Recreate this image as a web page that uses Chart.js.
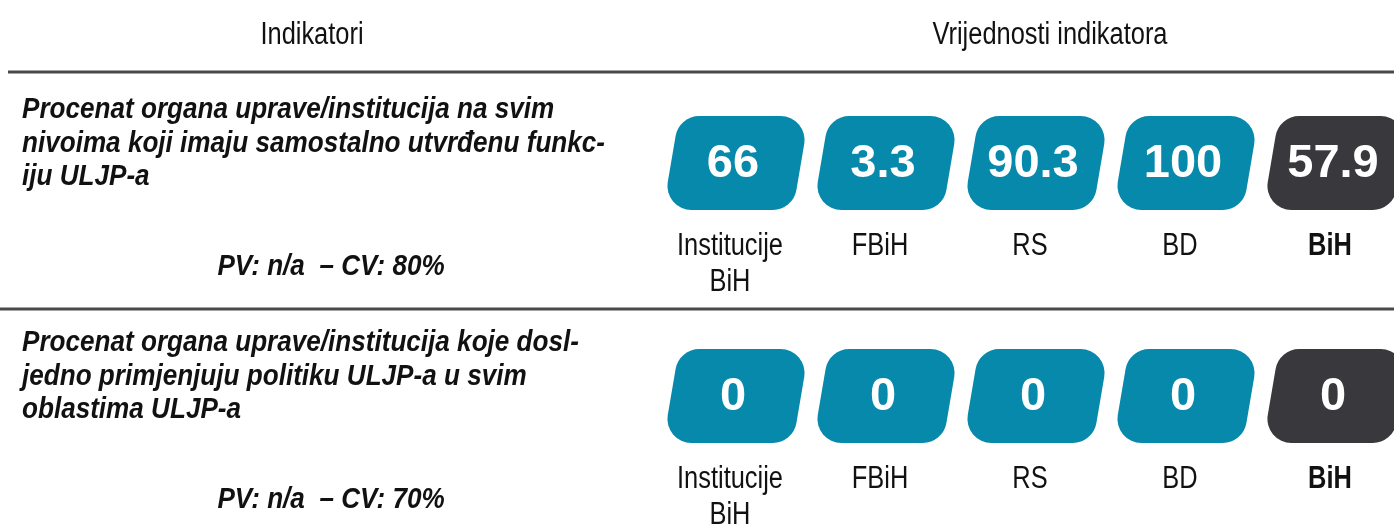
<!DOCTYPE html>
<html>
<head>
<meta charset="utf-8">
<script src="https://cdn.jsdelivr.net/npm/chart.js@4/dist/chart.umd.min.js"></script>
<style>
  body { margin: 0; background: #fff; }
  #wrap { width: 1394px; height: 532px; position: relative; }
</style>
</head>
<body>
<div id="wrap"><canvas id="badges"></canvas></div>
<script>
// --- data ---
const regions = [["Institucije", "BiH"], ["FBiH"], ["RS"], ["BD"], ["BiH"]];
const row1Values = [66, 3.3, 90.3, 100, 57.9];
const row2Values = [0, 0, 0, 0, 0];
const row1Text = [
  "Procenat organa uprave/institucija na svim",
  "nivoima koji imaju samostalno utvrđenu funkc-",
  "iju ULJP-a"
];
const row2Text = [
  "Procenat organa uprave/institucija koje dosl-",
  "jedno primjenjuju politiku ULJP-a u svim",
  "oblastima ULJP-a"
];
const targets = ["PV: n/a  – CV: 80%", "PV: n/a  – CV: 70%"];
const headers = ["Indikatori", "Vrijednosti indikatora"];

const TEAL = "#0689aa";
const DARK = "#38383d";
const FONT = "'Liberation Sans', Arial, sans-serif";
const NARROW = 0.82; // squeeze to look like Arial Narrow

function rowPoints(values, row) {
  return values.map((v, i) => ({ x: i, y: row, v: v }));
}

// text drawn horizontally condensed around its anchor
function narrowText(ctx, text, x, y, sx) {
  ctx.save();
  ctx.translate(x, y);
  ctx.scale(sx, 1);
  ctx.fillText(text, 0, 0);
  ctx.restore();
}

// slanted rounded badge
function badgePath(ctx, cx, cy) {
  const hw = 65, hh = 47, s = 8, r = 24;
  const tl = [cx - hw + s, cy - hh], tr = [cx + hw + s, cy - hh];
  const br = [cx + hw - s, cy + hh], bl = [cx - hw - s, cy + hh];
  ctx.beginPath();
  ctx.moveTo((tl[0] + tr[0]) / 2, tl[1]);
  ctx.arcTo(tr[0], tr[1], br[0], br[1], r);
  ctx.arcTo(br[0], br[1], bl[0], bl[1], r);
  ctx.arcTo(bl[0], bl[1], tl[0], tl[1], r);
  ctx.arcTo(tl[0], tl[1], tr[0], tr[1], r);
  ctx.closePath();
}

const tablePlugin = {
  id: "tablePlugin",
  afterDraw(chart) {
    const ctx = chart.ctx;
    ctx.save();

    // header
    ctx.fillStyle = "#111";
    ctx.textAlign = "center";
    ctx.textBaseline = "middle";
    ctx.font = "31px " + FONT;
    narrowText(ctx, headers[0], 312, 35, NARROW);
    narrowText(ctx, headers[1], 1050, 35, NARROW);

    // rules
    ctx.strokeStyle = "#4a4a4a";
    ctx.lineWidth = 3;
    ctx.beginPath();
    ctx.moveTo(8, 72); ctx.lineTo(1394, 72);
    ctx.moveTo(0, 309); ctx.lineTo(1394, 309);
    ctx.stroke();

    // indicator text
    const blocks = [row1Text, row2Text];
    const yScale = chart.scales.y;
    blocks.forEach((lines, row) => {
      const cy = yScale.getPixelForValue(row);
      ctx.font = "italic bold 30px " + FONT;
      ctx.textAlign = "left";
      ctx.fillStyle = "#111";
      lines.forEach((t, k) => narrowText(ctx, t, 22, cy - 53 + k * 33.5, 0.87));
      ctx.textAlign = "center";
      narrowText(ctx, targets[row], 331, cy + 104, 0.87);
    });

    // badges
    chart.data.datasets.forEach((ds, di) => {
      const meta = chart.getDatasetMeta(di);
      meta.data.forEach((pt, i) => {
        const last = i === regions.length - 1;
        ctx.fillStyle = last ? DARK : TEAL;
        badgePath(ctx, pt.x, pt.y);
        ctx.fill();

        ctx.fillStyle = "#fff";
        ctx.font = "bold 47px " + FONT;
        ctx.textAlign = "center";
        ctx.textBaseline = "middle";
        ctx.fillText(String(ds.data[i].v), pt.x - 3, pt.y + 1);

        ctx.fillStyle = "#111";
        ctx.font = (last ? "bold " : "") + "31px " + FONT;
        regions[i].forEach((t, k) => narrowText(ctx, t, pt.x - 6, pt.y + 83 + k * 36, NARROW));
      });
    });

    ctx.restore();
  }
};

new Chart(document.getElementById("badges"), {
  type: "scatter",
  data: {
    datasets: [
      { data: rowPoints(row1Values, 0), pointRadius: 0 },
      { data: rowPoints(row2Values, 1), pointRadius: 0 }
    ]
  },
  options: {
    responsive: true,
    maintainAspectRatio: false,
    animation: false,
    layout: { padding: 0 },
    plugins: { legend: { display: false }, tooltip: { enabled: false } },
    scales: {
      x: { type: "linear", display: false, min: -4.9067, max: 4.3867 },
      y: { type: "linear", display: false, reverse: true, min: -0.6996, max: 1.5837 }
    }
  },
  plugins: [tablePlugin]
});
</script>
</body>
</html>
